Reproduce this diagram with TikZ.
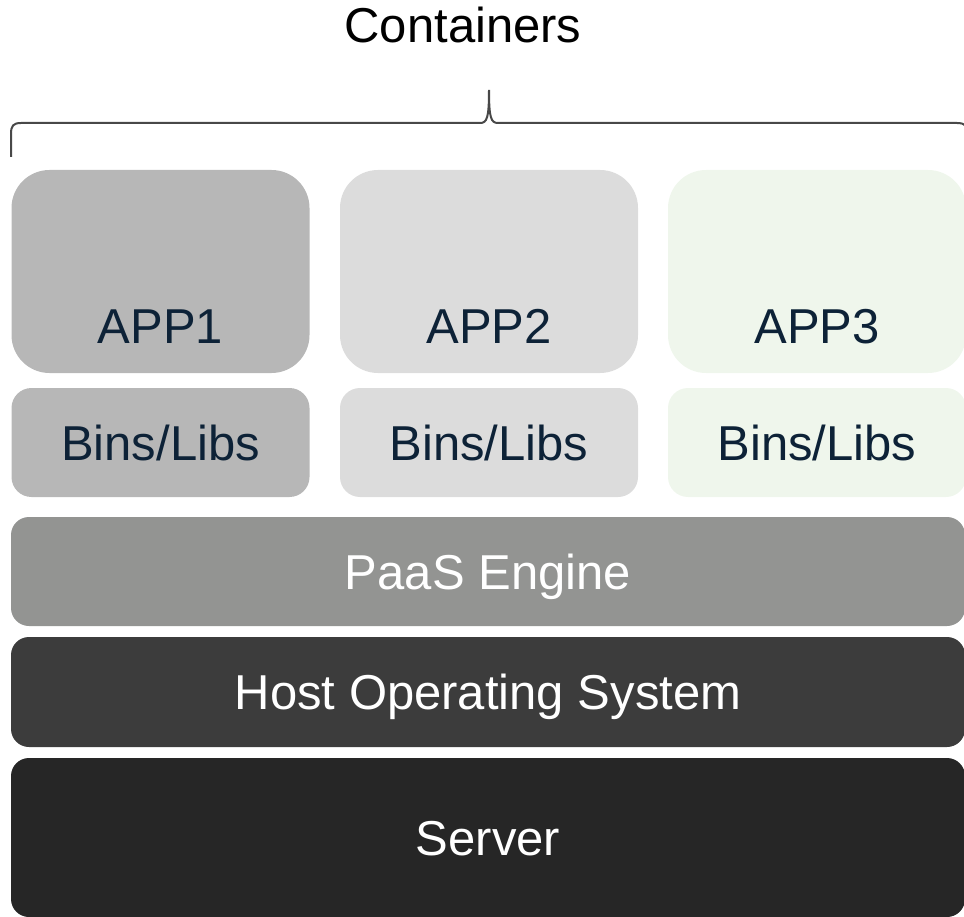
\documentclass[tikz,border=0pt]{standalone}
\usepackage{fontspec}
\setmainfont{Liberation Sans}
\definecolor{appone}{HTML}{B7B7B7}
\definecolor{apptwo}{HTML}{DCDCDC}
\definecolor{appthree}{HTML}{EFF6EC}
\definecolor{engine}{HTML}{939492}
\definecolor{hostos}{HTML}{3C3C3C}
\definecolor{server}{HTML}{262626}
\definecolor{darktext}{HTML}{0D2237}
\definecolor{bracecol}{HTML}{484848}
\tikzset{
  layer/.style={rounded corners=18pt, inner sep=0pt, minimum height=109pt,
    minimum width=954pt, text height=35pt, text depth=0pt,
    font=\fontsize{49}{59}\selectfont},
  appbox/.style={layer, rounded corners=38pt, minimum width=298pt, minimum height=203pt},
  libbox/.style={layer, rounded corners=20pt, minimum width=298pt, text=darktext},
  applabel/.style={inner sep=0pt, text height=35pt, text depth=0pt, text=darktext,
    font=\fontsize{49}{59}\selectfont}
}
\begin{document}
\begin{tikzpicture}[x=1pt, y=-1pt]
  \useasboundingbox (0,0) rectangle (964,917);
  % heading and brace over the three containers
  \node[applabel, text=black, anchor=base] (title) at (463,43) {Containers};
  \draw[bracecol, line width=2pt]
    (11,157) -- (11,134) .. controls (11,126) and (13,123) .. (21,123)
    -- (480,123) .. controls (487,123) and (489,118) .. (489,90)
    .. controls (489,118) and (491,123) .. (498,123)
    -- (957,123) .. controls (965,123) and (968,126) .. (968,134) -- (968,157);
  % containers
  \node[appbox, fill=appone] (app1) at (160.5,271.5) {};
  \node[appbox, fill=apptwo] (app2) at (489,271.5) {};
  \node[appbox, fill=appthree] (app3) at (817,271.5) {};
  \node[applabel, anchor=base] (app1lbl) at ([yshift=30pt]app1.south) {APP1};
  \node[applabel, anchor=base] (app2lbl) at ([yshift=30pt]app2.south) {APP2};
  \node[applabel, anchor=base] (app3lbl) at ([yshift=30pt]app3.south) {APP3};
  \node[libbox, fill=appone] (libs1) at (160.5,442.5) {Bins/Libs};
  \node[libbox, fill=apptwo] (libs2) at (489,442.5) {Bins/Libs};
  \node[libbox, fill=appthree] (libs3) at (817,442.5) {Bins/Libs};
  % shared layers
  \node[layer, fill=engine, text=white] (paas) at (488,571.5) {PaaS Engine};
  \node[layer, fill=hostos, text=white, minimum height=110pt] (host) at (488,692) {Host Operating System};
  \node[layer, fill=server, text=white, minimum height=159pt] (srv) at (488,837.5) {Server};
\end{tikzpicture}
\end{document}
